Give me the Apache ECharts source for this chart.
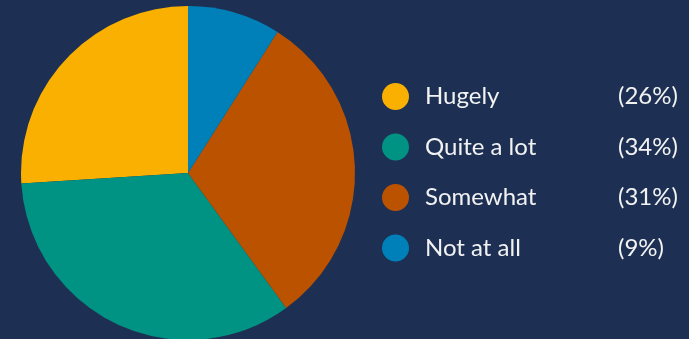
<!DOCTYPE html>
<html><head><meta charset="utf-8">
<style>html,body{margin:0;padding:0;background:#1d3054;}#c{width:689px;height:339px;}</style>
<script src="https://cdn.jsdelivr.net/npm/echarts@6/dist/echarts.min.js"></script>
</head><body><div id="c"></div>
<script>
const categories = ["Hugely", "Quite a lot", "Somewhat", "Not at all"];
const values = [26, 34, 31, 9];
const colors = ["#f9b000", "#009282", "#bb5200", "#0080b8"];

const total = values.reduce((a, b) => a + b, 0);
const chart = echarts.init(document.getElementById('c'));
chart.setOption({
  backgroundColor: '#1d3054',
  animation: false,
  legend: {
    orient: 'vertical',
    left: 377,
    top: 78,
    itemWidth: 27,
    itemHeight: 27,
    itemGap: 23.5,
    icon: 'circle',
    data: categories,
    formatter: function (name) {
      const i = categories.indexOf(name);
      return '{n|' + name + '}{p|(' + Math.round(values[i] / total * 100) + '%)}';
    },
    textStyle: {
      color: '#f2f2f2',
      fontFamily: 'Lato',
      fontSize: 24,
      lineHeight: 27,
      rich: {
        n: { width: 193, padding: [0, 0, 0, 11], color: '#f2f2f2', fontFamily: 'Lato', fontSize: 24, lineHeight: 27 },
        p: { color: '#f2f2f2', fontFamily: 'Lato', fontSize: 24, lineHeight: 27 }
      }
    }
  },
  series: [{
    type: 'pie',
    center: [188, 173],
    radius: 167,
    startAngle: 90,
    clockwise: false,
    label: { show: false },
    labelLine: { show: false },
    itemStyle: { borderWidth: 0 },
    data: categories.map((c, i) => ({ name: c, value: values[i], itemStyle: { color: colors[i] } }))
  }]
});
</script></body></html>
